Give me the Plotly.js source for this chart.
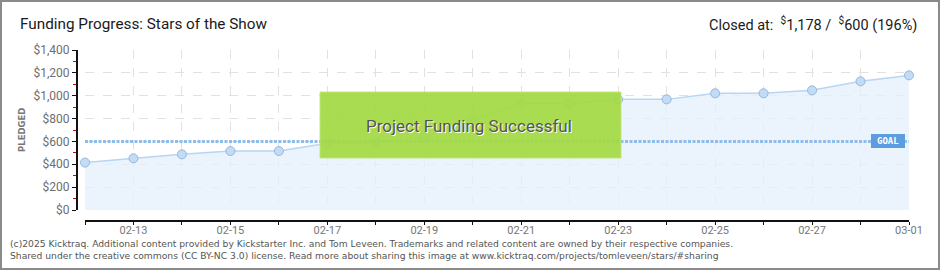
<!DOCTYPE html>
<html>
<head>
<meta charset="utf-8">
<script src="https://cdn.plot.ly/plotly-3.0.1.min.js"></script>
<style>
html,body{margin:0;padding:0;background:#fff;}
#wrap{position:relative;width:940px;height:270px;}
#chart{width:940px;height:270px;}
#frame{position:absolute;left:0;top:0;width:940px;height:270px;box-sizing:border-box;border:2px solid #8a8a8a;pointer-events:none;}
</style>
</head>
<body>
<div id="wrap"><div id="chart"></div><div id="frame"></div></div>
<script>
// ---- data ----
const dates = ["2025-02-12","2025-02-13","2025-02-14","2025-02-15","2025-02-16","2025-02-17",
  "2025-02-18","2025-02-19","2025-02-20","2025-02-21","2025-02-22","2025-02-23",
  "2025-02-24","2025-02-25","2025-02-26","2025-02-27","2025-02-28","2025-03-01"];
const pledged = [415, 452, 487, 516, 516, 583, 592, 641, 787, 936, 934, 968, 968, 1021, 1021, 1047, 1126, 1178];
const goal = 600;
const goalValues = dates.map(() => goal);
const titleText = "Funding Progress: Stars of the Show";
const closedText = "Closed at:  <sup>$</sup>1,178 /  <sup>$</sup>600 (196%)";
const bannerText = "Project Funding Successful";
const goalLabel = "GOAL";
const yLabel = "PLEDGED";
const footer1 = "(c)2025 Kicktraq. Additional content provided by Kickstarter Inc. and Tom Leveen. Trademarks and related content are owned by their respective companies.";
const footer2 = "Shared under the creative commons (CC BY-NC 3.0) license. Read more about sharing this image at www.kicktraq.com/projects/tomleveen/stars/#sharing";

// ---- geometry helpers (pixel -> paper) ----
const L = 76, R = 31, T = 50, B = 50;
const W = 940 - L - R, H = 270 - T - B;
const px = x => (x - L) / W;
const py = y => (270 - B - y) / H;

const headFont = "Roboto, sans-serif";

const traces = [
  {
    x: dates, y: pledged, type: "scatter", mode: "lines+markers",
    fill: "tozeroy", fillcolor: "rgba(228,239,252,0.75)",
    line: {color: "#b8d5f3", width: 1.5},
    marker: {size: 9, color: "#c2dbf6", line: {color: "#98b7da", width: 1}},
    hoverinfo: "skip", cliponaxis: false
  },
  {
    x: dates, y: goalValues, type: "scatter", mode: "lines",
    line: {color: "#8ebde9", width: 3, dash: "3px,1.5px"},
    hoverinfo: "skip"
  }
];

const layout = {
  width: 940, height: 270,
  margin: {l: L, r: R, t: T, b: B},
  paper_bgcolor: "#fff", plot_bgcolor: "rgba(0,0,0,0)",
  showlegend: false,
  title: {
    text: titleText, xref: "container", yref: "container",
    x: 20/940, xanchor: "left", y: 1 - 24/270, yanchor: "middle",
    font: {family: headFont, size: 15.3, color: "#1a1a1a"}
  },
  xaxis: {
    type: "date",
    range: [dates[0], dates[dates.length - 1]],
    domain: [9 / W, 1],
    anchor: "free", position: 0,
    tickformat: "%m-%d",
    tick0: "2025-02-13", dtick: 2 * 86400000,
    ticks: "outside", ticklen: 3, tickwidth: 1, tickcolor: "#111",
    ticklabelstandoff: -4,
    showline: true, linecolor: "#111", linewidth: 1.5,
    showgrid: true, gridcolor: "#e1e1e1", griddash: "dash", gridwidth: 1,
    minor: {dtick: 86400000, tick0: "2025-02-12", ticks: "outside", ticklen: 3, tickcolor: "#111",
            showgrid: true, gridcolor: "#e1e1e1", griddash: "dash"},
    tickfont: {family: headFont, size: 11, color: "#777"},
    zeroline: false, fixedrange: true
  },
  yaxis: {
    range: [0, 1400],
    domain: [10 / H, 1],
    anchor: "free", position: 0,
    tick0: 0, dtick: 200,
    tickprefix: "$", tickformat: ",d",
    ticks: "outside", ticklen: 4, tickwidth: 1, tickcolor: "#111",
    showline: true, linecolor: "#111", linewidth: 1.5,
    showgrid: true, gridcolor: "#e1e1e1", griddash: "dash", gridwidth: 1,
    minor: {dtick: 100, tick0: 100, ticks: "outside", ticklen: 3, tickcolor: "#e00000", showgrid: false},
    tickfont: {family: headFont, size: 12, color: "#6e6e6e"},
    zeroline: false, fixedrange: true
  },
  shapes: [
    {type: "rect", xref: "paper", yref: "paper",
     x0: px(320), x1: px(621), y0: py(158), y1: py(92),
     fillcolor: "rgba(164,217,68,0.93)", line: {color: "rgba(190,232,120,0.9)", width: 1}, layer: "above"},
    {type: "rect", xref: "paper", yref: "paper",
     x0: px(871), x1: px(905), y0: py(148), y1: py(134),
     fillcolor: "#5b9de0", line: {width: 0}, layer: "above"}
  ],
  annotations: [
    {text: closedText, xref: "paper", yref: "paper", x: px(919), y: py(24),
     xanchor: "right", yanchor: "middle", showarrow: false,
     font: {family: headFont, size: 14.5, color: "#1a1a1a"}},
    {text: bannerText, xref: "paper", yref: "paper", x: px(469), y: py(126),
     xanchor: "center", yanchor: "middle", showarrow: false,
     font: {family: headFont, size: 17, color: "#555", shadow: "1px 1px 0px #fff"}},
    {text: "<b>" + goalLabel + "</b>", xref: "paper", yref: "paper", x: px(888), y: py(141),
     xanchor: "center", yanchor: "middle", showarrow: false,
     font: {family: "DejaVu Sans Mono, monospace", size: 9, color: "#fff"}},
    {text: "<b>" + yLabel + "</b>", xref: "paper", yref: "paper", x: px(22), y: py(130),
     xanchor: "center", yanchor: "middle", showarrow: false, textangle: -90,
     font: {family: "DejaVu Sans, sans-serif", size: 8.5, color: "#777"}},
    {text: footer1, xref: "paper", yref: "paper", x: px(8), y: py(243),
     xanchor: "left", yanchor: "middle", showarrow: false,
     font: {family: "DejaVu Sans, Verdana, sans-serif", size: 9.2, color: "#555"}},
    {text: footer2, xref: "paper", yref: "paper", x: px(8), y: py(256),
     xanchor: "left", yanchor: "middle", showarrow: false,
     font: {family: "DejaVu Sans, Verdana, sans-serif", size: 9.2, color: "#555"}}
  ]
};

Plotly.newPlot("chart", traces, layout, {displayModeBar: false, staticPlot: true});
</script>
</body>
</html>
